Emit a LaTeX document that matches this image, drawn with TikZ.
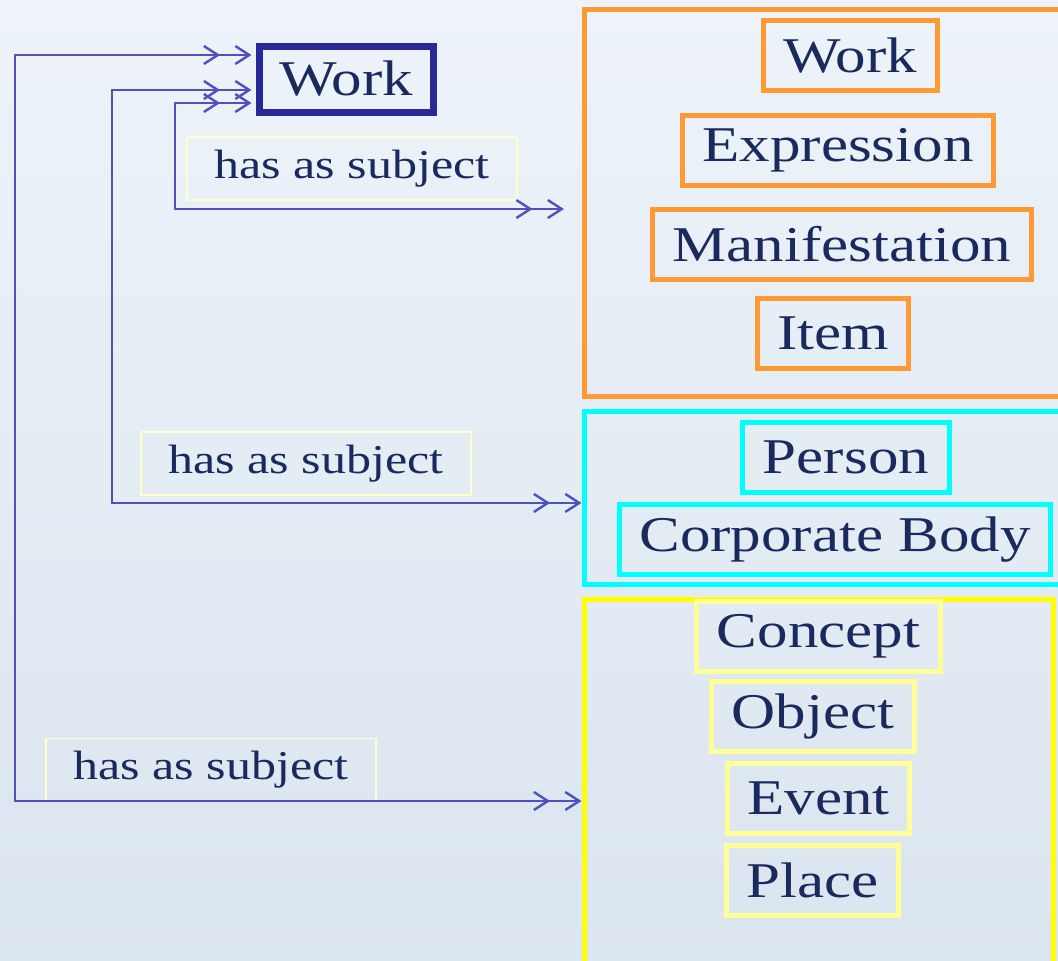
\documentclass[tikz,border=0pt]{standalone}
\usepackage{fontspec}
\setmainfont{Liberation Serif}
\newfontfamily\widefont[FakeStretch=1.22]{Liberation Serif}
\usetikzlibrary{arrows.meta}
\definecolor{navy}{RGB}{27,42,94}
\definecolor{workblue}{RGB}{40,40,150}
\definecolor{linkblue}{RGB}{80,80,190}
\definecolor{frbrorange}{RGB}{255,153,51}
\definecolor{agentcyan}{RGB}{0,255,255}
\definecolor{subjyellow}{RGB}{255,255,0}
\definecolor{paleyellow}{RGB}{255,255,153}
\definecolor{labelyellow}{RGB}{255,255,204}
\definecolor{bgtop}{RGB}{237,243,249}
\definecolor{bgbot}{RGB}{219,229,239}
\tikzset{dbl/.tip={Straight Barb[length=7pt,width=9pt,sep=7pt]Straight Barb[length=7pt,width=9pt]}}

\begin{document}
\begin{tikzpicture}[x=0.5pt,y=-0.5pt,
  ent/.style={draw,line width=2.5pt,inner xsep=10pt,minimum height=35pt,text=navy,font=\widefont\fontsize{25}{30}\selectfont},
  frbr/.style={ent,draw=frbrorange},
  agent/.style={ent,draw=agentcyan},
  subj/.style={ent,draw=paleyellow},
  grp/.style={draw,line width=2.5pt},
  rel/.style={draw=labelyellow,line width=0.8pt,minimum width=165pt,minimum height=31.5pt,inner sep=0pt,text=navy,font=\widefont\fontsize{20.5}{25}\selectfont},
  link/.style={draw=linkblue,line width=1.2pt,{dbl}-{dbl}}]
  \useasboundingbox (0,0) rectangle (1058,960);
  \clip (0,0) rectangle (1058,960);
  \shade[top color=bgtop,bottom color=bgbot] (0,0) rectangle (1058,960);

  % groups
  \node[grp,draw=frbrorange,minimum width=248pt,minimum height=193.5pt] (grpA) at (832,202.5) {};
  \node[grp,draw=agentcyan,minimum width=248pt,minimum height=86.75pt] (grpB) at (832,497.75) {};
  \node[grp,draw=subjyellow,minimum width=234.5pt,minimum height=201.5pt] (grpC) at (818.5,801) {};

  % group 1
  \node[frbr] (work1) at (850,55.5) {Work};
  \node[frbr] (expr) at (838,150) {Expression};
  \node[frbr] (manif) at (842,244.5) {Manifestation};
  \node[frbr] (item) at (833,333) {Item};
  % group 2
  \node[agent] (person) at (846,457) {Person};
  \node[agent] (corp) at (835,539.5) {Corporate Body};
  % group 3
  \node[subj] (concept) at (818.5,636) {Concept};
  \node[subj] (object) at (813,716) {Object};
  \node[subj] (event) at (818.5,798.5) {Event};
  \node[subj] (place) at (812.5,880.5) {Place};

  \node[ent,draw=workblue,line width=3.5pt,minimum height=33pt] (work) at (346,79) {Work};

  \node[rel] (relA) at (352,168.5) {has as subject};
  \node[rel] (relB) at (306,463.5) {has as subject};
  \node[rel] (relC) at (211,770) {has as subject};

  \coordinate (colA) at (175,150);
  \coordinate (colB) at (112,300);
  \coordinate (colC) at (15,400);
  \draw[link] ([xshift=-2pt,yshift=-12pt]work.west) -| (colA) |- ([xshift=-8.75pt,yshift=-3.25pt]grpA.west);
  \draw[link] ([xshift=-2pt,yshift=-5.5pt]work.west) -| (colB) |- ([yshift=-2.6pt]grpB.west);
  \draw[link] ([xshift=-2pt,yshift=12pt]work.west) -| (colC) |- (grpC.west);
\end{tikzpicture}
\end{document}
